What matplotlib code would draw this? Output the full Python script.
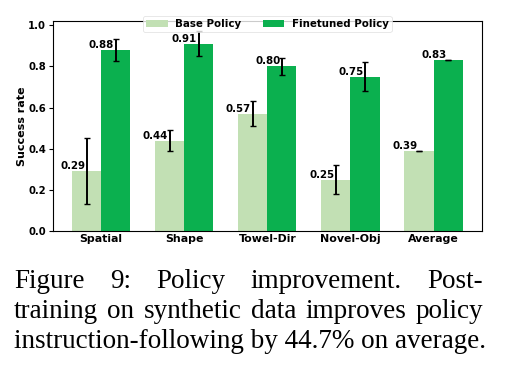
import matplotlib
matplotlib.use("Agg")
import matplotlib.pyplot as plt
import numpy as np

plt.rcParams["font.family"] = ["DejaVu Sans"]

categories = ["Spatial", "Shape", "Towel-Dir", "Novel-Obj", "Average"]
base_vals = [0.29, 0.44, 0.57, 0.25, 0.39]
base_err = [0.16, 0.05, 0.06, 0.07, 0.0]
fine_vals = [0.88, 0.91, 0.80, 0.75, 0.83]
fine_err = [0.055, 0.06, 0.04, 0.07, 0.0]
yticks = [0.0, 0.2, 0.4, 0.6, 0.8, 1.0]

base_color = "#c2e0b4"
fine_color = "#0bb04f"

fig = plt.figure(figsize=(5.05, 3.65), dpi=100)
ax = fig.add_axes([0.105, 0.367, 0.849, 0.575])

x = np.arange(len(categories))
w = 0.35
ax.bar(x - w/2, base_vals, w, color=base_color, label="Base Policy",
       yerr=base_err, capsize=2, error_kw=dict(elinewidth=1.4, capthick=1.0, ecolor="black"))
ax.bar(x + w/2, fine_vals, w, color=fine_color, label="Finetuned Policy",
       yerr=fine_err, capsize=2, error_kw=dict(elinewidth=1.4, capthick=1.0, ecolor="black"))

for xi, v in zip(x - w/2, base_vals):
    ax.text(xi - 0.02, v, f"{v:.2f}", ha="right", va="bottom", fontsize=7.4, fontweight="bold")
for xi, v in zip(x + w/2, fine_vals):
    ax.text(xi - 0.02, v, f"{v:.2f}", ha="right", va="bottom", fontsize=7.4, fontweight="bold")

ax.set_xlim(-0.58, 4.58)
ax.set_ylim(0, 1.02)
ax.set_xticks(x)
ax.set_xticklabels(categories, fontsize=7.9, fontweight="bold")
ax.set_yticks(yticks)
ax.set_yticklabels([f"{t:.1f}" for t in yticks], fontsize=7.2, fontweight="bold")
ax.tick_params(axis="x", length=0, pad=2)
ax.tick_params(axis="y", length=3, pad=2)
ax.set_ylabel("Success rate", fontsize=8, fontweight="bold", labelpad=1)

leg = ax.legend(loc="upper center", bbox_to_anchor=(0.5, 1.025), ncol=2,
                prop=dict(size=7.4, weight="bold"), borderaxespad=0,
                frameon=True, framealpha=0.8, handlelength=2.1, columnspacing=2.1,
                borderpad=0.3, handleheight=0.6, handletextpad=0.7)
leg.get_frame().set_edgecolor("#dddddd")
leg.get_frame().set_linewidth(0.6)

serif = ["Liberation Serif", "DejaVu Serif"]
fs = 19.5
W = 505.0
left_px, right_px = 14.0, 483.0
renderer = fig.canvas.get_renderer()


def justified(line, ypos):
    words = line.split(" ")
    texts = [fig.text(0, ypos, wd, family=serif, fontsize=fs, ha="left", va="center") for wd in words]
    widths = [t.get_window_extent(renderer).width for t in texts]
    gap = (right_px - left_px - sum(widths)) / (len(words) - 1)
    pos = left_px
    for t, wd in zip(texts, widths):
        t.set_x(pos / W)
        pos += wd + gap


y1, y2, y3 = 1 - 282/365, 1 - 312/365, 1 - 341/365
justified("Figure 9: Policy improvement. Post-", y1)
justified("training on synthetic data improves policy", y2)
fig.text(left_px / W, y3, "instruction-following by 44.7% on average.", family=serif, fontsize=fs, ha="left", va="center")

fig.savefig("out.png", dpi=100)
